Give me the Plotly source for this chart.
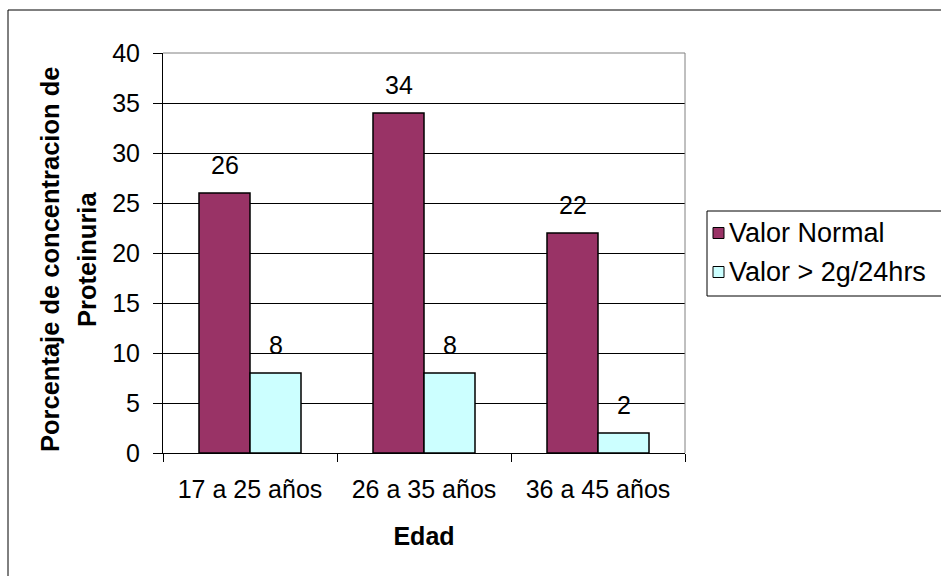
import plotly.graph_objects as go

# Data
categories = ["17 a 25 años", "26 a 35 años", "36 a 45 años"]
series_names = ["Valor Normal", "Valor > 2g/24hrs"]
valor_normal = [26, 34, 22]
valor_alto = [8, 8, 2]
series_values = [valor_normal, valor_alto]
series_colors = ["#993366", "#CCFFFF"]
y_ticks = [0, 5, 10, 15, 20, 25, 30, 35, 40]
y_title_lines = ["Porcentaje de concentracion de", "Proteinuria"]

# Layout geometry (pixels)
FIG_W, FIG_H = 941, 576
PLOT_L, PLOT_R, PLOT_T, PLOT_B = 163, 685, 53, 453
BARGAP = 72 / 174
FONT = "Liberation Sans, Arial, sans-serif"
FS = 25
FS_LEG = 27


def px_x(px):
    return (px - PLOT_L) / (PLOT_R - PLOT_L)


def px_y(py):
    return (PLOT_B - py) / (PLOT_B - PLOT_T)


fig = go.Figure()
for name, vals, col in zip(series_names, series_values, series_colors):
    fig.add_trace(go.Bar(
        x=categories, y=vals, name=name,
        marker=dict(color=col, line=dict(color="black", width=1.5)),
        showlegend=False,
    ))

# Value labels above each bar
group_w = 1 - BARGAP
annotations = []
for s, vals in enumerate(series_values):
    offset = (s - (len(series_values) - 1) / 2) * group_w / len(series_values)
    for i, v in enumerate(vals):
        annotations.append(dict(
            x=i + offset, y=v, xref="x", yref="y", text=str(v),
            showarrow=False, yanchor="middle", yshift=28,
            font=dict(family=FONT, size=FS, color="black"),
        ))

# Y axis title, one annotation per line
for line, cx in zip(y_title_lines, [50, 87]):
    annotations.append(dict(
        x=px_x(cx), y=px_y(260), xref="paper", yref="paper",
        text="<b>%s</b>" % line,
        textangle=-90, showarrow=False, xanchor="center", yanchor="middle",
        font=dict(family=FONT, size=25.5, color="black"),
    ))

# Legend entries
shapes = []
leg_rows = [233, 272]
for name, col, cy in zip(series_names, series_colors, leg_rows):
    shapes.append(dict(
        type="rect", xref="paper", yref="paper",
        x0=px_x(713), x1=px_x(724), y0=px_y(cy + 5.5), y1=px_y(cy - 5.5),
        fillcolor=col, line=dict(color="black", width=1),
    ))
    annotations.append(dict(
        x=px_x(727), y=px_y(cy), xref="paper", yref="paper", text=name,
        showarrow=False, xanchor="left", yanchor="middle",
        font=dict(family=FONT, size=FS_LEG, color="black"),
    ))

# Legend frame
shapes.append(dict(
    type="rect", xref="paper", yref="paper",
    x0=px_x(707), x1=px_x(960), y0=px_y(296), y1=px_y(211),
    line=dict(color="black", width=1), fillcolor="rgba(0,0,0,0)",
))
# Chart frame
shapes.append(dict(
    type="rect", xref="paper", yref="paper",
    x0=px_x(8), x1=px_x(960), y0=px_y(600), y1=px_y(10),
    line=dict(color="black", width=1), fillcolor="rgba(0,0,0,0)",
))
# Plot-area border (top and right, grey)
shapes.append(dict(type="line", xref="paper", yref="paper", x0=0, x1=1, y0=1, y1=1,
                   line=dict(color="#808080", width=1), layer="above"))
shapes.append(dict(type="line", xref="paper", yref="paper", x0=1, x1=1, y0=0, y1=1,
                   line=dict(color="#808080", width=1), layer="above"))

fig.update_layout(
    width=FIG_W, height=FIG_H,
    margin=dict(l=PLOT_L, r=FIG_W - PLOT_R, t=PLOT_T, b=FIG_H - PLOT_B, pad=0),
    paper_bgcolor="white", plot_bgcolor="white",
    barmode="group", bargap=BARGAP, bargroupgap=0,
    font=dict(family=FONT, size=FS, color="black"),
    showlegend=False,
    annotations=annotations,
    shapes=shapes,
    xaxis=dict(
        type="category", range=[-0.5, 2.5],
        showline=True, linecolor="black", linewidth=1,
        ticks="outside", tickson="boundaries", ticklen=8, tickcolor="black",
        showgrid=False, ticklabelstandoff=14,
        tickfont=dict(family=FONT, size=FS, color="black"),
        title=dict(text="<b>Edad</b>", standoff=25,
                   font=dict(family=FONT, size=FS, color="black")),
    ),
    yaxis=dict(
        range=[0, 40], tickvals=y_ticks,
        showline=True, linecolor="black", linewidth=1,
        ticks="outside", ticklen=9, tickcolor="black",
        showgrid=True, gridcolor="black", gridwidth=1, zeroline=False,
        ticklabelstandoff=8,
        tickfont=dict(family=FONT, size=FS, color="black"),
    ),
)

fig.write_html("out.html")
